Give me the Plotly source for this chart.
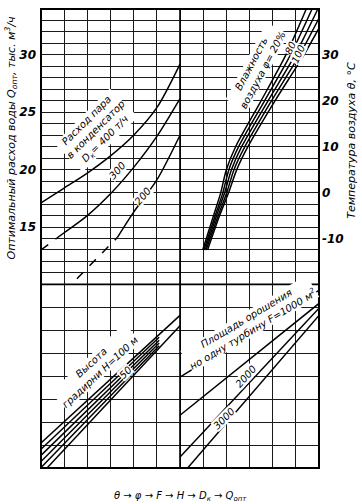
import plotly.graph_objects as go

# ---------------- data ----------------
# common horizontal construction scale (grid columns)
grid_cols = list(range(0, 13))

# Upper-left: steam flow to condenser Dk (t/h) -> Q_opt (thous. m3/h)
dk400_x = [0, 1, 2, 3, 4, 5, 6]
dk400_q = [17.1, 18.4, 19.7, 21.2, 23.0, 25.4, 29.2]
dk300_x = [0.8, 1, 2, 3, 4, 5, 6]
dk300_q = [14.2, 14.5, 16.0, 17.9, 20.2, 22.9, 26.2]
dk300_dash_x = [0, 0.8]
dk300_dash_q = [13.0, 14.2]
dk200_x = [3.3, 4, 5, 6]
dk200_q = [14.1, 16.3, 19.1, 23.0]
dk200_dash_x = [1.55, 3.3]
dk200_dash_q = [10.5, 14.1]

# Upper-right: air humidity phi (%) vs air temperature theta (deg C)
theta_pts = [-12.5, -5, 0, 5, 10, 20, 30, 40]
phi20_x = [6.98, 7.45, 7.76, 8.00, 8.40, 9.50, 10.57, 11.45]
phi40_x = [7.03, 7.52, 7.85, 8.11, 8.53, 9.65, 10.77, 11.70]
phi60_x = [7.08, 7.58, 7.93, 8.22, 8.66, 9.80, 10.97, 11.95]
phi80_x = [7.13, 7.65, 8.02, 8.33, 8.80, 9.95, 11.16, 12.20]
phi100_x = [7.19, 7.71, 8.10, 8.45, 8.93, 10.10, 11.35, 12.45]

# Lower-left: tower height H (m)
h_values = [100, 90, 80, 70, 60, 50]
h_x0 = [0.0, 0.0, 0.0, 0.0, 0.0, 0.26]
h_y0 = [1.09, 0.82, 0.55, 0.28, 0.02, 0.0]
h_x1 = [6.0, 5.1, 5.1, 5.1, 5.1, 6.0]
h_y1 = [6.65, 5.70, 5.57, 5.45, 5.33, 6.20]

# Lower-right: irrigation area per turbine F (m2)
f_values = [1000, 2000, 3000, 4000]
f_x0 = [6.0, 6.0, 6.0, 6.33]
f_y0 = [3.96, 2.30, 0.48, 0.0]
f_x1 = [12.0, 12.0, 12.0, 12.0]
f_y1 = [7.74, 7.17, 6.96, 6.65]

# axis ticks
q_range = [10, 34]
q_grid = list(range(10, 35))
q_tick_vals = [15, 20, 25, 30]
q_tick_text = ["15", "20", "25", "30"]
t_range = [-20, 40]
t_tick_vals = [-10, 0, 10, 20, 30]
t_tick_text = ["-10", "0", "10", "20", "30"]
low_grid = list(range(0, 9))

# ---------------- figure ----------------
FONT = "DejaVu Sans"
LW = 1.5
fig = go.Figure()

def line(x, y, xa, ya, dash="solid", shape="linear"):
    fig.add_trace(go.Scatter(x=x, y=y, xaxis=xa, yaxis=ya, mode="lines",
                             line=dict(color="black", width=LW, dash=dash, shape=shape,
                                       smoothing=0.8),
                             hoverinfo="skip"))

line(dk400_x, dk400_q, "x2", "y", shape="spline")
line(dk300_x, dk300_q, "x2", "y", shape="spline")
line(dk300_dash_x, dk300_dash_q, "x2", "y", "dash")
line(dk200_x, dk200_q, "x2", "y", shape="spline")
line(dk200_dash_x, dk200_dash_q, "x2", "y", "dash")

for px in [phi20_x, phi40_x, phi60_x, phi80_x, phi100_x]:
    line(px, theta_pts, "x2", "y2", shape="spline")

for i in range(len(h_values)):
    line([h_x0[i], h_x1[i]], [h_y0[i], h_y1[i]], "x", "y3")

for i in range(len(f_values)):
    line([f_x0[i], f_x1[i]], [f_y0[i], f_y1[i]], "x", "y3")

GRID = "#1a1a1a"
xcommon = dict(range=[0, 12], tickvals=grid_cols, showticklabels=False, ticks="",
               showgrid=True, gridcolor=GRID, gridwidth=1, zeroline=False, domain=[0, 1])
fig.update_layout(
    width=362, height=504,
    margin=dict(l=41, r=43, t=9, b=36),
    paper_bgcolor="white", plot_bgcolor="white", showlegend=False,
    font=dict(family=FONT, color="black"),
    xaxis=dict(anchor="y3", **xcommon),
    xaxis2=dict(anchor="y", **xcommon),
    yaxis=dict(domain=[0.4, 1], range=q_range, anchor="x2",
               tickvals=q_tick_vals, ticktext=q_tick_text, ticks="",
               showgrid=True, gridcolor=GRID, gridwidth=1, zeroline=False,
               minor=dict(tickvals=q_grid, showgrid=True, gridcolor=GRID, gridwidth=1),
               tickfont=dict(size=12, style="italic", weight="bold", family=FONT),
               ticklabelstandoff=4),
    yaxis2=dict(overlaying="y", side="right", anchor="x2", range=t_range,
                tickvals=t_tick_vals, ticktext=t_tick_text, ticks="",
                showgrid=False, zeroline=False,
                tickfont=dict(size=12, style="italic", weight="bold", family=FONT),
                ticklabelstandoff=2),
    yaxis3=dict(domain=[0, 0.4], range=[0, 8], anchor="x", tickvals=low_grid,
                showticklabels=False, ticks="", showgrid=True, gridcolor=GRID,
                gridwidth=1, zeroline=False),
)

# frame and dividing lines
fig.add_shape(type="rect", xref="paper", yref="paper", x0=0, x1=1, y0=0, y1=1,
              line=dict(color="black", width=2))
fig.add_shape(type="line", xref="paper", yref="paper", x0=0.5, x1=0.5, y0=0, y1=1,
              line=dict(color="black", width=1.6))
fig.add_shape(type="line", xref="paper", yref="paper", x0=0, x1=1, y0=0.4, y1=0.4,
              line=dict(color="black", width=1.6))

def label(text, x, y, xref, yref, angle, size=10, bg=True):
    fig.add_annotation(text=text, x=x, y=y, xref=xref, yref=yref, textangle=angle,
                       xanchor="center", yanchor="middle",
                       showarrow=False, font=dict(size=size, style="italic", family=FONT),
                       bgcolor="white" if bg else None, borderpad=0)

label("Расход пара<br>в конденсатор<br>D<sub>к</sub>= 400 т/ч", 2.38, 23.4, "x2", "y", -45, 10)
label("300", 3.3, 19.9, "x2", "y", -48, 10)
label("200", 4.37, 17.7, "x2", "y", -50, 10)
label("Влажность<br>воздуха φ= 20%", 9.32, 27.4, "x2", "y2", -62, 10)
label("80", 10.75, 31.5, "x2", "y2", -65, 10)
label("100", 11.13, 30.2, "x2", "y2", -65, 10)
label("Высота<br>градирни H=100 м", 2.38, 4.39, "x", "y3", -43, 10)
label("50", 3.64, 4.17, "x", "y3", -45, 10)
label("Площадь орошения<br>но одну турбину F=1000 м<sup>2</sup>", 9.01, 6.26, "x", "y3", -31, 10)
label("2000", 8.84, 4.0, "x", "y3", -48, 10)
label("3000", 7.89, 2.17, "x", "y3", -45, 10)

# axis titles and bottom scheme
def side_text(text, x, y, angle, size):
    fig.add_annotation(text=text, x=x, y=y, xref="paper", yref="paper", textangle=angle,
                       xanchor="center", yanchor="middle", showarrow=False,
                       font=dict(size=size, style="italic", family=FONT))

side_text("Оптимальный расход воды Q<sub>опт</sub>, тыс. м<sup>3</sup>/ч", -0.108, 0.72, -90, 11)
side_text("Температура воздуха θ, °C", 1.119, 0.713, -90, 11)
side_text("θ → φ → F → H → D<sub>к</sub> → Q<sub>опт</sub>", 0.5, -0.063, 0, 10)

fig.write_html("out.html", config={"displayModeBar": False},
               post_script="document.body.style.margin='0';")
